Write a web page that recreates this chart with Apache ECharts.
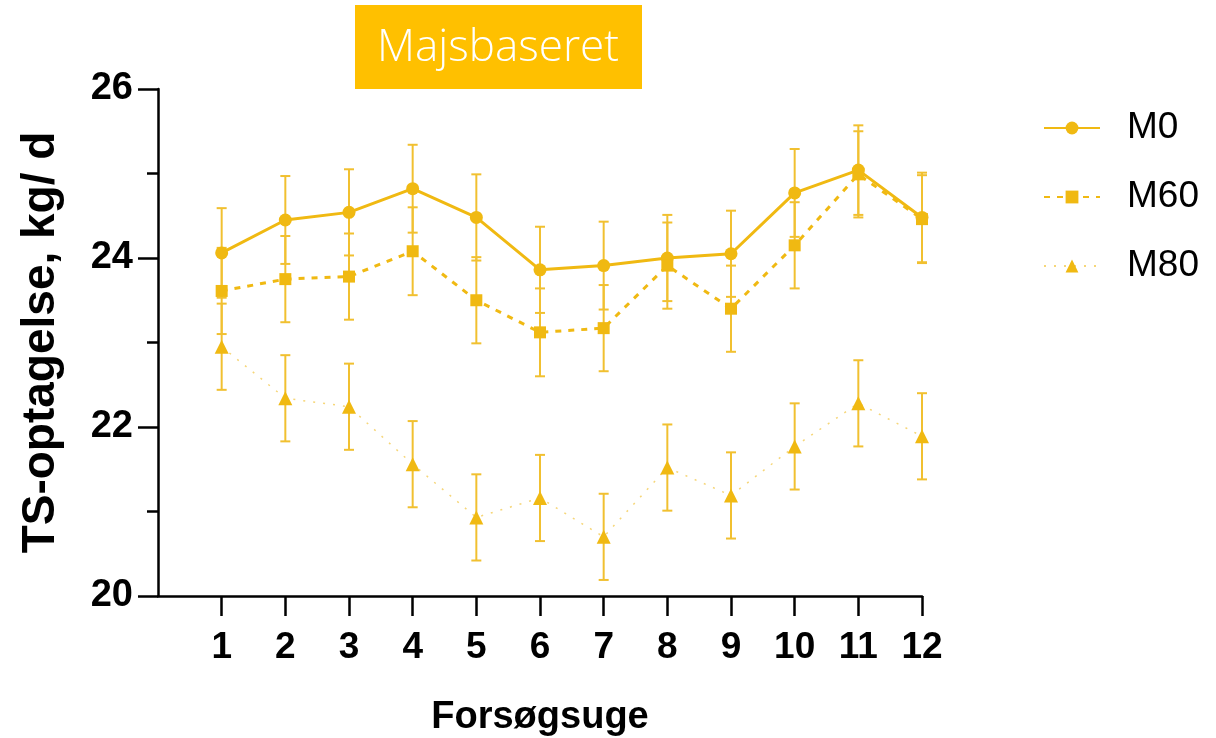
<!DOCTYPE html>
<html>
<head>
<meta charset="utf-8">
<script src="https://cdn.jsdelivr.net/npm/echarts@6/dist/echarts.min.js"></script>
<style>
html,body{margin:0;padding:0;background:#fff;}
#chart{width:1216px;height:738px;}
</style>
</head>
<body>
<div id="chart"></div>
<script>
// ---- data ----
const weeks = [1, 2, 3, 4, 5, 6, 7, 8, 9, 10, 11, 12];
const seriesNames = ['M0', 'M60', 'M80'];
const m0 = [24.06, 24.45, 24.54, 24.82, 24.48, 23.86, 23.91, 24.00, 24.05, 24.77, 25.04, 24.48];
const m0Err = [0.53, 0.52, 0.51, 0.52, 0.51, 0.51, 0.52, 0.51, 0.51, 0.52, 0.53, 0.53];
const m60 = [23.61, 23.75, 23.78, 24.08, 23.50, 23.12, 23.17, 23.91, 23.40, 24.15, 24.99, 24.46];
const m60Err = [0.51, 0.51, 0.51, 0.52, 0.51, 0.52, 0.51, 0.51, 0.51, 0.51, 0.51, 0.52];
const m80 = [22.95, 22.34, 22.24, 21.56, 20.93, 21.16, 20.70, 21.52, 21.19, 21.77, 22.28, 21.89];
const m80Err = [0.51, 0.51, 0.51, 0.51, 0.51, 0.51, 0.51, 0.51, 0.51, 0.51, 0.51, 0.51];
const yTicks = [20, 22, 24, 26];
const titleText = 'Majsbaseret';
const yName = 'TS-optagelse, kg/ d';
const xName = 'Forsøgsuge';

const col = '#F0B912';
const errCol = '#F1C030';
const fontFam = 'Liberation Sans, Arial, sans-serif';

function pts(vals) { return weeks.map((w, i) => [w, vals[i]]); }
function errs(vals, e) { return weeks.map((w, i) => [w, vals[i] - e[i], vals[i] + e[i]]); }

function renderErr(params, api) {
  const x = api.value(0), lo = api.value(1), hi = api.value(2);
  const pHi = api.coord([x, hi]);
  const pLo = api.coord([x, lo]);
  const cw = 5;
  const st = { stroke: errCol, lineWidth: 2 };
  return {
    type: 'group',
    children: [
      { type: 'line', shape: { x1: pHi[0], y1: pHi[1], x2: pLo[0], y2: pLo[1] }, style: st },
      { type: 'line', shape: { x1: pHi[0] - cw, y1: pHi[1], x2: pHi[0] + cw, y2: pHi[1] }, style: st },
      { type: 'line', shape: { x1: pLo[0] - cw, y1: pLo[1], x2: pLo[0] + cw, y2: pLo[1] }, style: st }
    ]
  };
}

const chart = echarts.init(document.getElementById('chart'), null, { renderer: 'canvas' });
const option = {
  animation: false,
  backgroundColor: '#fff',
  graphic: [
    { type: 'rect', x: 355, y: 5, shape: { x: 0, y: 0, width: 287, height: 84 }, style: { fill: '#FFC000' }, z: 10 },
    { type: 'text', x: 498, y: 48, z: 11,
      style: { text: titleText, align: 'center', verticalAlign: 'middle',
               fill: '#fff', font: '300 44px "Open Sans", "Noto Sans", sans-serif' } }
  ],
  legend: {
    data: seriesNames,
    orient: 'vertical',
    left: 1038,
    top: 102,
    itemWidth: 56,
    itemHeight: 16,
    itemGap: 27,
    textStyle: { fontSize: 37, lineHeight: 42, color: '#000', fontFamily: fontFam, padding: [0, 0, 0, 22] }
  },
  grid: { left: 158, right: 294, top: 89, bottom: 142, containLabel: false, outerBoundsMode: 'none' },
  xAxis: {
    type: 'value', min: 0, max: 12, interval: 1,
    name: xName, nameLocation: 'middle', nameGap: 103,
    nameTextStyle: { fontSize: 38, fontWeight: 'bold', color: '#000', fontFamily: fontFam },
    axisLine: { show: true, lineStyle: { color: '#000', width: 2.5 } },
    axisTick: { show: true, length: 20, lineStyle: { color: '#000', width: 2.5 }, customValues: weeks },
    axisLabel: { customValues: weeks, margin: 33, fontSize: 37, fontWeight: 'bold', color: '#000', fontFamily: fontFam },
    splitLine: { show: false }
  },
  yAxis: {
    type: 'value', min: 20, max: 26, interval: 2,
    name: yName, nameLocation: 'middle', nameGap: 94, nameRotate: 90,
    nameTextStyle: { fontSize: 46, fontWeight: 'bold', color: '#000', fontFamily: fontFam },
    axisLine: { show: true, lineStyle: { color: '#000', width: 2.5 } },
    axisTick: { show: true, length: 20, lineStyle: { color: '#000', width: 2.5 } },
    minorTick: { show: true, splitNumber: 2, length: 11, lineStyle: { color: '#000', width: 2.5 } },
    axisLabel: { customValues: yTicks, margin: 25, fontSize: 38, fontWeight: 'bold', color: '#000', fontFamily: fontFam },
    splitLine: { show: false }
  },
  series: [
    { name: 'M0', type: 'line', data: pts(m0), symbol: 'circle', symbolSize: 13,
      itemStyle: { color: col }, lineStyle: { color: col, width: 3, type: 'solid' }, z: 5 },
    { name: 'M60', type: 'line', data: pts(m60), symbol: 'rect', symbolSize: 12,
      itemStyle: { color: col }, lineStyle: { color: col, width: 3, type: [6, 7] }, z: 5 },
    { name: 'M80', type: 'line', data: pts(m80), symbol: 'triangle', symbolSize: 14,
      itemStyle: { color: col }, lineStyle: { color: '#F6D678', width: 1.5, type: [2, 8] }, z: 5 },
    { name: 'eM0', type: 'custom', renderItem: renderErr, data: errs(m0, m0Err), encode: { x: 0, y: [1, 2] }, z: 4 },
    { name: 'eM60', type: 'custom', renderItem: renderErr, data: errs(m60, m60Err), encode: { x: 0, y: [1, 2] }, z: 4 },
    { name: 'eM80', type: 'custom', renderItem: renderErr, data: errs(m80, m80Err), encode: { x: 0, y: [1, 2] }, z: 4 }
  ]
};
chart.setOption(option);
</script>
</body>
</html>
